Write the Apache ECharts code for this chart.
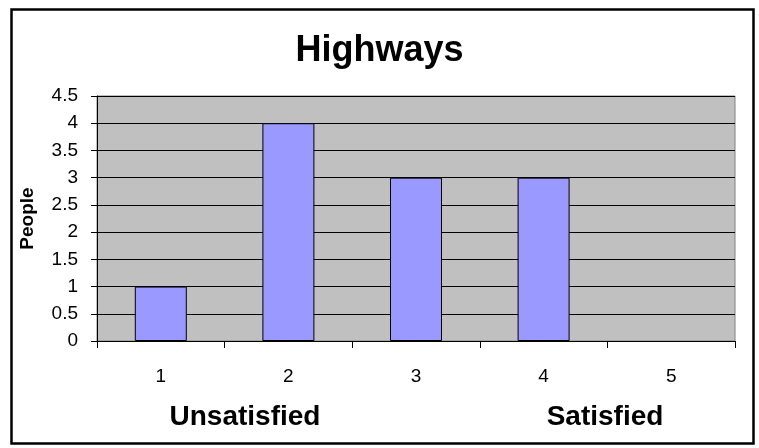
<!DOCTYPE html>
<html>
<head>
<meta charset="utf-8">
<script src="https://cdn.jsdelivr.net/npm/echarts@6/dist/echarts.min.js"></script>
<style>
  html, body { margin: 0; padding: 0; background: #fff; }
  #chart { width: 759px; height: 448px; }
</style>
</head>
<body>
<div id="chart"></div>
<script>
// chart data
var categories = ['1', '2', '3', '4', '5'];
var people = [1, 4, 3, 3, 0];
var yTicks = { min: 0, max: 4.5, interval: 0.5 };
var scaleEnds = ['Unsatisfied', 'Satisfied'];

var font = 'Liberation Sans, Arial, sans-serif';

var myChart = echarts.init(document.getElementById('chart'));

var option = {
    animation: false,
    backgroundColor: '#ffffff',
    title: {
        text: 'Highways',
        left: 'center',
        top: 28,
        textStyle: { fontFamily: font, fontSize: 36, fontWeight: 'bold', color: '#000' }
    },
    grid: {
        left: 97,
        right: 24,
        top: 96,
        bottom: 107,
        show: true,
        backgroundColor: '#c0c0c0',
        borderColor: '#808080',
        borderWidth: 1
    },
    xAxis: {
        type: 'category',
        data: categories,
        axisLine: { lineStyle: { color: '#000', width: 1 } },
        axisTick: { show: true, length: 7, lineStyle: { color: '#000' } },
        axisLabel: { margin: 26, fontFamily: font, fontSize: 19, color: '#000' }
    },
    yAxis: {
        type: 'value',
        min: yTicks.min,
        max: yTicks.max,
        interval: yTicks.interval,
        name: 'People',
        nameLocation: 'middle',
        nameGap: 60,
        nameRotate: 90,
        nameTextStyle: { fontFamily: font, fontSize: 19, fontWeight: 'bold', color: '#000' },
        axisLine: { show: true, lineStyle: { color: '#000', width: 1 } },
        axisTick: { show: true, length: 6, lineStyle: { color: '#000' } },
        axisLabel: { margin: 19, fontFamily: font, fontSize: 19, color: '#000' },
        splitLine: { lineStyle: { color: '#000', width: 1 } }
    },
    series: [{
        type: 'bar',
        // empty categories get no bar outline
        data: people.map(function(v) { return v === 0 ? '-' : v; }),
        barWidth: 52,
        itemStyle: { color: '#9999ff', borderColor: '#000', borderWidth: 1 }
    }],
    graphic: [
        {
            type: 'rect',
            left: 9, top: 7,
            shape: { width: 742, height: 434 },
            style: { fill: 'none', stroke: '#000', lineWidth: 2.5 },
            z: 100
        },
        {
            type: 'text',
            x: 245, y: 417,
            style: {
                text: scaleEnds[0], fontFamily: font, fontSize: 28, fontWeight: 'bold',
                fill: '#000', textAlign: 'center', textVerticalAlign: 'middle'
            }
        },
        {
            type: 'text',
            x: 605, y: 417,
            style: {
                text: scaleEnds[1], fontFamily: font, fontSize: 28, fontWeight: 'bold',
                fill: '#000', textAlign: 'center', textVerticalAlign: 'middle'
            }
        }
    ]
};

myChart.setOption(option);

window.onresize = function() {
    myChart.resize();
};
</script>
</body>
</html>
